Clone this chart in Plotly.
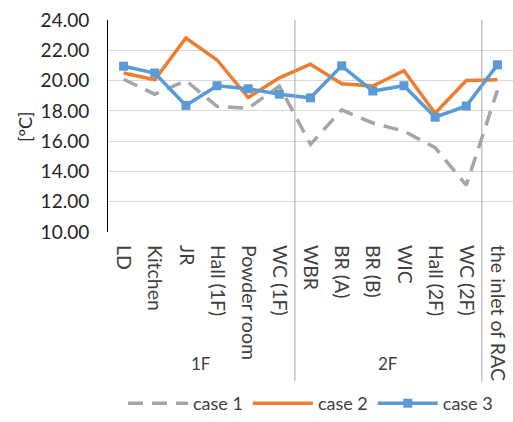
import plotly.graph_objects as go

categories = ["LD", "Kitchen", "JR", "Hall (1F)", "Powder room", "WC (1F)",
              "WBR", "BR (A)", "BR (B)", "WIC", "Hall (2F)", "WC (2F)", "the inlet of RAC"]
groups = ["1F", "2F"]
case1 = [20.09, 19.10, 20.00, 18.30, 18.17, 19.64, 15.79, 18.06, 17.20, 16.66, 15.57, 13.09, 19.35]
case2 = [20.50, 20.05, 22.81, 21.36, 18.88, 20.18, 21.08, 19.79, 19.64, 20.65, 17.84, 20.00, 20.05]
case3 = [20.95, 20.50, 18.36, 19.66, 19.46, 19.10, 18.86, 20.97, 19.31, 19.66, 17.58, 18.32, 21.04]
y_ticks = [10, 12, 14, 16, 18, 20, 22, 24]

FONT = "Lato"

fig = go.Figure()
fig.add_trace(go.Scatter(x=categories, y=case1, name="case 1", mode="lines",
                         line=dict(color="#A5A5A5", width=3.5, dash="15px,9px")))
fig.add_trace(go.Scatter(x=categories, y=case2, name="case 2", mode="lines",
                         line=dict(color="#ED7D31", width=3.5)))
fig.add_trace(go.Scatter(x=categories, y=case3, name="case 3", mode="lines+markers",
                         line=dict(color="#5B9BD5", width=3.5),
                         marker=dict(symbol="square", size=9, color="#5B9BD5")))

# group dividers
for xpos in [5.5, 11.5]:
    fig.add_shape(type="line", xref="x", yref="paper", x0=xpos, x1=xpos, y0=1, y1=-0.705,
                  line=dict(color="#A6A6A6", width=1))

# group labels
for g, xc in zip(groups, [2.5, 8.5]):
    fig.add_annotation(text=g, x=xc, xref="x", y=-0.62, yref="paper", showarrow=False,
                       xanchor="center", yanchor="middle",
                       font=dict(family=FONT, size=17, color="#404040"))

# y axis title
fig.add_annotation(text="[°C]", x=-0.205, xref="paper", y=0.5, yref="paper",
                   textangle=-90, showarrow=False, xanchor="center", yanchor="middle",
                   font=dict(family=FONT, size=18, color="#262626"))

fig.update_layout(
    width=513, height=422,
    margin=dict(l=108, r=0, t=20, b=186),
    paper_bgcolor="white", plot_bgcolor="white",
    font=dict(family=FONT, size=18, color="#404040"),
    showlegend=True,
    legend=dict(orientation="h", x=0.5, xanchor="center", y=-0.81, yanchor="middle",
                font=dict(family=FONT, size=18, color="#404040"),
                itemwidth=60, tracegroupgap=0),
    xaxis=dict(type="category", categoryorder="array", categoryarray=categories,
               tickangle=90, showgrid=False, showline=False, ticks="",
               tickfont=dict(family=FONT, size=19.5, color="#404040"),
               ticklabelstandoff=12,
               range=[-0.5, 12.5], zeroline=False, automargin=False),
    yaxis=dict(range=[10, 24.0001], tickvals=y_ticks, tickformat=".2f",
               showgrid=True, gridcolor="#D9D9D9", gridwidth=1,
               showline=True, linecolor="#000000", linewidth=1, ticks="",
               zeroline=False, automargin=False, ticklabelstandoff=14,
               ticklabeloverflow="allow",
               tickfont=dict(family=FONT, size=19, color="#262626")),
)

css_fix = (
    "document.documentElement.style.margin='0px';"
    "document.documentElement.style.padding='0px';"
    "document.documentElement.style.overflow='hidden';"
    "document.body.style.margin='0px';"
    "document.body.style.padding='0px';"
    "document.body.style.overflow='hidden';"
)

fig.write_html("out.html", config={"displayModeBar": False}, post_script=css_fix)
